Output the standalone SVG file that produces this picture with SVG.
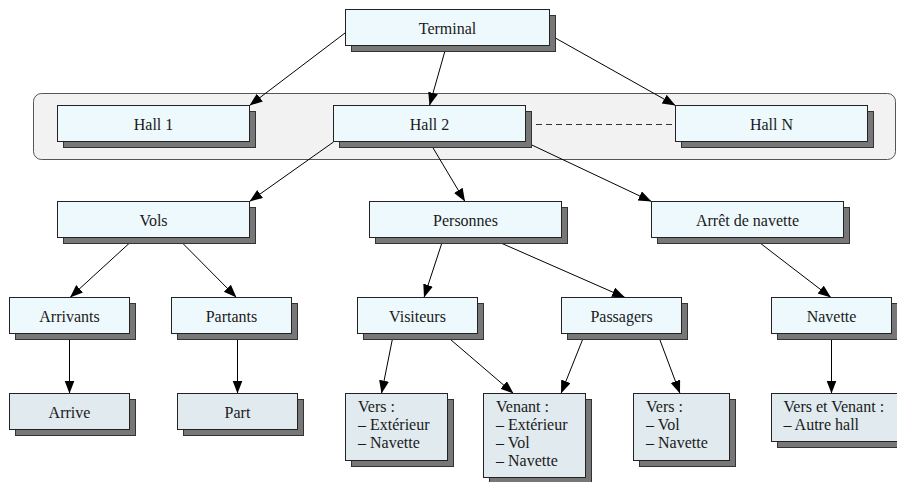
<svg xmlns="http://www.w3.org/2000/svg" width="897" height="482" viewBox="0 0 897 482" font-family="'Liberation Serif', 'Times New Roman', serif">
<defs>
<style>
.sh{fill:#777777;stroke:#333333;stroke-width:1}
.bx{fill:#eef9fd;stroke:#222222;stroke-width:1}
.bx2{fill:#e0eaef;stroke:#222222;stroke-width:1}
.t{font-family:'Liberation Serif','Times New Roman',serif;font-size:16px;fill:#1a1a1a}
.c{text-anchor:middle}
.ln{stroke:#000000;stroke-width:1;fill:none;marker-end:url(#ah)}
.dash{stroke:#333333;stroke-width:1;fill:none;stroke-dasharray:6,4}
</style>
<marker id="ah" markerUnits="userSpaceOnUse" markerWidth="14" markerHeight="11" refX="13" refY="5" orient="auto">
<path d="M0,0 L13,5 L0,10 z" fill="#000000"/>
</marker>
</defs>
<rect width="897" height="482" fill="#ffffff"/>
<g id="hall-group">
<rect x="33.5" y="93.5" width="862" height="66" rx="8" ry="8" fill="#f2f2f2" stroke="#555555" stroke-width="1"/>
</g>
<g id="connectors">
<line class="ln" x1="345" y1="33" x2="249.5" y2="105.5"/>
<line class="ln" x1="446.5" y1="45.5" x2="429.5" y2="105.5"/>
<line class="ln" x1="550" y1="35" x2="675.5" y2="105.5"/>
<line class="dash" x1="526" y1="124.5" x2="675" y2="124.5"/>
<line class="ln" x1="333.5" y1="142" x2="249.5" y2="201.5"/>
<line class="ln" x1="429.5" y1="142" x2="465" y2="201.5"/>
<line class="ln" x1="525.5" y1="142" x2="651.5" y2="201.5"/>
<line class="ln" x1="135" y1="238" x2="70" y2="297.5"/>
<line class="ln" x1="177.5" y1="238" x2="236.5" y2="297.5"/>
<line class="ln" x1="443.5" y1="238" x2="424" y2="297.5"/>
<line class="ln" x1="489.5" y1="238" x2="625" y2="297.5"/>
<line class="ln" x1="753.5" y1="238" x2="831" y2="297.5"/>
<line class="ln" x1="69.5" y1="333.5" x2="69.5" y2="393.5"/>
<line class="ln" x1="237.5" y1="333.5" x2="237.5" y2="393.5"/>
<line class="ln" x1="393.5" y1="333.5" x2="381.5" y2="393.5"/>
<line class="ln" x1="443.5" y1="333.5" x2="513.5" y2="393.5"/>
<line class="ln" x1="585" y1="333.5" x2="561" y2="393.5"/>
<line class="ln" x1="657.5" y1="333.5" x2="680" y2="393.5"/>
<line class="ln" x1="831.5" y1="333.5" x2="831.5" y2="393.5"/>
</g>
<g id="terminal"><rect class="sh" x="351.5" y="15.5" width="204" height="36"/><rect class="bx" x="345.5" y="9.5" width="204" height="36"/><text class="t c" x="447.5" y="33.5">Terminal</text></g>
<g id="hall1"><rect class="sh" x="63.5" y="111.5" width="192" height="36"/><rect class="bx" x="57.5" y="105.5" width="192" height="36"/><text class="t c" x="153.5" y="129.5">Hall 1</text></g>
<g id="hall2"><rect class="sh" x="339.5" y="111.5" width="192" height="36"/><rect class="bx" x="333.5" y="105.5" width="192" height="36"/><text class="t c" x="429.5" y="129.5">Hall 2</text></g>
<g id="hallN"><rect class="sh" x="681.5" y="111.5" width="192" height="36"/><rect class="bx" x="675.5" y="105.5" width="192" height="36"/><text class="t c" x="771.5" y="129.5">Hall N</text></g>
<g id="vols"><rect class="sh" x="63.5" y="207.5" width="192" height="36"/><rect class="bx" x="57.5" y="201.5" width="192" height="36"/><text class="t c" x="153.5" y="225.5">Vols</text></g>
<g id="personnes"><rect class="sh" x="375.5" y="207.5" width="192" height="36"/><rect class="bx" x="369.5" y="201.5" width="192" height="36"/><text class="t c" x="465.5" y="225.5">Personnes</text></g>
<g id="arret"><rect class="sh" x="657.5" y="207.5" width="192" height="36"/><rect class="bx" x="651.5" y="201.5" width="192" height="36"/><text class="t c" x="747.5" y="225.5">Arrêt de navette</text></g>
<g id="arrivants"><rect class="sh" x="15.5" y="303.5" width="120" height="36"/><rect class="bx" x="9.5" y="297.5" width="120" height="36"/><text class="t c" x="69.5" y="321.5">Arrivants</text></g>
<g id="partants"><rect class="sh" x="177.5" y="303.5" width="120" height="36"/><rect class="bx" x="171.5" y="297.5" width="120" height="36"/><text class="t c" x="231.5" y="321.5">Partants</text></g>
<g id="visiteurs"><rect class="sh" x="363.5" y="303.5" width="120" height="36"/><rect class="bx" x="357.5" y="297.5" width="120" height="36"/><text class="t c" x="417.5" y="321.5">Visiteurs</text></g>
<g id="passagers"><rect class="sh" x="567.5" y="303.5" width="120" height="36"/><rect class="bx" x="561.5" y="297.5" width="120" height="36"/><text class="t c" x="621.5" y="321.5">Passagers</text></g>
<g id="navette"><rect class="sh" x="777.5" y="303.5" width="120" height="36"/><rect class="bx" x="771.5" y="297.5" width="120" height="36"/><text class="t c" x="831.5" y="321.5">Navette</text></g>
<g id="arrive"><rect class="sh" x="15.5" y="399.5" width="120" height="36"/><rect class="bx2" x="9.5" y="393.5" width="120" height="36"/><text class="t c" x="69.5" y="417.5">Arrive</text></g>
<g id="part"><rect class="sh" x="183.5" y="399.5" width="120" height="36"/><rect class="bx2" x="177.5" y="393.5" width="120" height="36"/><text class="t c" x="237.5" y="417.5">Part</text></g>
<g id="vers-visiteurs"><rect class="sh" x="351.5" y="399.5" width="102" height="67"/><rect class="bx2" x="345.5" y="393.5" width="102" height="67"/><text class="t" x="358" y="411.5">Vers :</text><text class="t" x="358" y="429.5">– Extérieur</text><text class="t" x="358" y="447.5">– Navette</text></g>
<g id="venant"><rect class="sh" x="489.5" y="399.5" width="102" height="84"/><rect class="bx2" x="483.5" y="393.5" width="102" height="84"/><text class="t" x="496" y="411.5">Venant :</text><text class="t" x="496" y="429.5">– Extérieur</text><text class="t" x="496" y="447.5">– Vol</text><text class="t" x="496" y="465.5">– Navette</text></g>
<g id="vers-passagers"><rect class="sh" x="639.5" y="399.5" width="96" height="67"/><rect class="bx2" x="633.5" y="393.5" width="96" height="67"/><text class="t" x="646" y="411.5">Vers :</text><text class="t" x="646" y="429.5">– Vol</text><text class="t" x="646" y="447.5">– Navette</text></g>
<g id="vers-venant"><rect class="sh" x="777.5" y="399.5" width="130" height="48"/><rect class="bx2" x="771.5" y="393.5" width="130" height="48"/><text class="t" x="783.5" y="411.5">Vers et Venant :</text><text class="t" x="783.5" y="429.5">– Autre hall</text></g>
</svg>
